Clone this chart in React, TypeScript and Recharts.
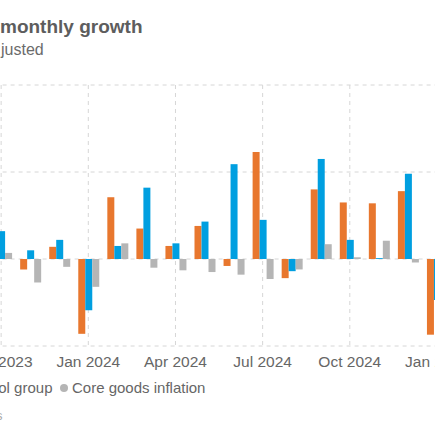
import React from "react";
import { BarChart, Bar, XAxis, YAxis, CartesianGrid } from "recharts";

const months = [
  "Oct 2023", "Nov 2023", "Dec 2023", "Jan 2024", "Feb 2024", "Mar 2024",
  "Apr 2024", "May 2024", "Jun 2024", "Jul 2024", "Aug 2024", "Sep 2024",
  "Oct 2024", "Nov 2024", "Dec 2024", "Jan 2025",
];
const retailSales = [null, -0.12, 0.14, -0.86, 0.71, 0.35, 0.15, 0.38, -0.08, 1.23, -0.22, 0.8, 0.65, 0.64, 0.78, -0.87];
const controlGroup = [0.32, 0.1, 0.22, -0.59, 0.15, 0.82, 0.18, 0.43, 1.09, 0.45, -0.14, 1.15, 0.22, 0.01, 0.98, -0.47];
const coreGoods = [0.07, -0.27, -0.09, -0.32, 0.18, -0.1, -0.13, -0.15, -0.18, -0.23, -0.12, 0.17, 0.02, 0.21, -0.04, null];
const yTicks = [-1, 0, 1, 2];

const titleText = "monthly growth";
const subtitleText = "justed";
const legendTail = "ol group";
const legendCore = "Core goods inflation";
const sourceTail = "s";

const ORANGE = "#e8772e";
const BLUE = "#009fe0";
const GRAY = "#b5b5b5";
const FONT = "'Liberation Sans', Arial, sans-serif";

const data = months.map((m, i) => ({
  month: m,
  retail: retailSales[i],
  control: controlGroup[i],
  core: coreGoods[i],
}));

export default function App() {
  return (
    <div
      style={{
        position: "absolute",
        left: 0,
        top: 0,
        width: 435,
        height: 435,
        overflow: "hidden",
        background: "#fff",
        fontFamily: FONT,
      }}
    >
      <div style={{ position: "absolute", left: -40, top: 0 }}>
        <BarChart
          width={520}
          height={435}
          data={data}
          margin={{ top: 85, right: 28.5, left: 26.6, bottom: 59 }}
          barCategoryGap="15.5%"
          barGap={0}
        >
          <CartesianGrid stroke="#d6d6d6" strokeDasharray="4 4" />
          <XAxis
            dataKey="month"
            interval={2}
            height={30}
            axisLine={false}
            tickLine={false}
            tickSize={6}
            tickMargin={4}
            tick={{ fill: "#666", fontSize: 15.5, fontFamily: FONT }}
          />
          <YAxis hide domain={[-1, 2]} ticks={yTicks} />
          <Bar dataKey="retail" fill={ORANGE} isAnimationActive={false} />
          <Bar dataKey="control" fill={BLUE} isAnimationActive={false} />
          <Bar dataKey="core" fill={GRAY} isAnimationActive={false} />
        </BarChart>
      </div>
      <svg
        width={435}
        height={435}
        style={{ position: "absolute", left: 0, top: 0, pointerEvents: "none" }}
      >
        <text x={0} y={33} fontSize={19} fontWeight="bold" fill="#5d5d5d" fontFamily={FONT}>
          {titleText}
        </text>
        <text x={1} y={55} fontSize={16} fill="#6b6b6b" fontFamily={FONT}>
          {subtitleText}
        </text>
        <text x={52.5} y={393} textAnchor="end" fontSize={15} fill="#666" fontFamily={FONT}>
          {legendTail}
        </text>
        <circle cx={64} cy={388} r={4} fill={GRAY} />
        <text x={72} y={393} fontSize={15} fill="#666" fontFamily={FONT}>
          {legendCore}
        </text>
        <text x={2.5} y={420} textAnchor="end" fontSize={13} fill="#aaa" fontFamily={FONT}>
          {sourceTail}
        </text>
      </svg>
    </div>
  );
}
